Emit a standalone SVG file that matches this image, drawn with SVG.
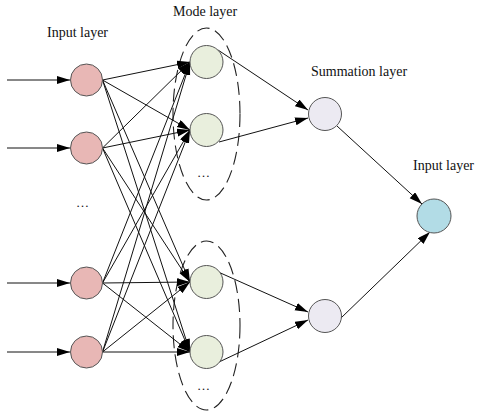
<svg xmlns="http://www.w3.org/2000/svg" width="480" height="415" viewBox="0 0 480 415">
<defs>
<marker id="arr" markerWidth="13" markerHeight="9" refX="13" refY="4" orient="auto" markerUnits="userSpaceOnUse">
<path d="M0,0 L13,4 L0,8 z" fill="#000"/>
</marker>
<style>
text{font-family:"Liberation Serif","Times New Roman",serif;font-size:14px;fill:#111}
.dots{font-size:13px}
.node{stroke:#555;stroke-width:1}
.in{fill:#E8B7B5}
.mode{fill:#E9EFDD}
.sum{fill:#ECEAF2}
.out{fill:#B2DCE6}
.edge{stroke:#111;stroke-width:1;fill:none;marker-end:url(#arr)}
.group{fill:none;stroke:#222;stroke-width:1.1;stroke-dasharray:13,6}
</style>
</defs>
<rect width="480" height="415" fill="#fff"/>
<g id="labels">
<text x="47" y="37">Input layer</text>
<text x="173" y="16">Mode layer</text>
<text x="311" y="76">Summation layer</text>
<text x="413" y="170">Input layer</text>
<text class="dots" x="76" y="207">…</text>
<text class="dots" x="197" y="177">…</text>
<text class="dots" x="197" y="390">…</text>
</g>
<g id="mode-groups">
<ellipse class="group" cx="206.5" cy="114" rx="33.5" ry="86"/>
<ellipse class="group" cx="206.5" cy="325.5" rx="33.5" ry="84.5"/>
</g>
<g id="connectors">
<line class="edge" x1="7" y1="80" x2="70" y2="80"/>
<line class="edge" x1="7" y1="148" x2="70" y2="148"/>
<line class="edge" x1="7" y1="283" x2="70" y2="283"/>
<line class="edge" x1="7" y1="352" x2="70" y2="352"/>
<line class="edge" x1="102.5" y1="80" x2="190" y2="62"/>
<line class="edge" x1="102.5" y1="80" x2="190" y2="130"/>
<line class="edge" x1="102.5" y1="80" x2="190" y2="282"/>
<line class="edge" x1="102.5" y1="80" x2="190" y2="352"/>
<line class="edge" x1="102.5" y1="148" x2="190" y2="62"/>
<line class="edge" x1="102.5" y1="148" x2="190" y2="130"/>
<line class="edge" x1="102.5" y1="148" x2="190" y2="282"/>
<line class="edge" x1="102.5" y1="148" x2="190" y2="352"/>
<line class="edge" x1="102.5" y1="283" x2="190" y2="62"/>
<line class="edge" x1="102.5" y1="283" x2="190" y2="130"/>
<line class="edge" x1="102.5" y1="283" x2="190" y2="282"/>
<line class="edge" x1="102.5" y1="283" x2="190" y2="352"/>
<line class="edge" x1="102.5" y1="352" x2="190" y2="62"/>
<line class="edge" x1="102.5" y1="352" x2="190" y2="130"/>
<line class="edge" x1="102.5" y1="352" x2="190" y2="282"/>
<line class="edge" x1="102.5" y1="352" x2="190" y2="352"/>
<line class="edge" x1="218" y1="50" x2="308" y2="110"/>
<line class="edge" x1="219" y1="142" x2="308" y2="118"/>
<line class="edge" x1="216" y1="271" x2="308" y2="312"/>
<line class="edge" x1="219" y1="362" x2="308" y2="320"/>
<line class="edge" x1="337" y1="126" x2="422" y2="204"/>
<line class="edge" x1="341" y1="318" x2="430" y2="232"/>
</g>
<g id="input-1"><circle class="node in" cx="86.5" cy="80" r="16"/></g>
<g id="input-2"><circle class="node in" cx="86.5" cy="148" r="16"/></g>
<g id="input-3"><circle class="node in" cx="86.5" cy="283" r="16"/></g>
<g id="input-4"><circle class="node in" cx="86.5" cy="352" r="16"/></g>
<g id="mode-1"><circle class="node mode" cx="206.5" cy="62" r="16.5"/></g>
<g id="mode-2"><circle class="node mode" cx="206.5" cy="130" r="16.5"/></g>
<g id="mode-3"><circle class="node mode" cx="206.5" cy="282" r="16.5"/></g>
<g id="mode-4"><circle class="node mode" cx="206.5" cy="352" r="16.5"/></g>
<g id="sum-1"><circle class="node sum" cx="325" cy="114" r="16.5"/></g>
<g id="sum-2"><circle class="node sum" cx="325" cy="316" r="16.5"/></g>
<g id="output"><circle class="node out" cx="434" cy="216" r="17"/></g>
</svg>
